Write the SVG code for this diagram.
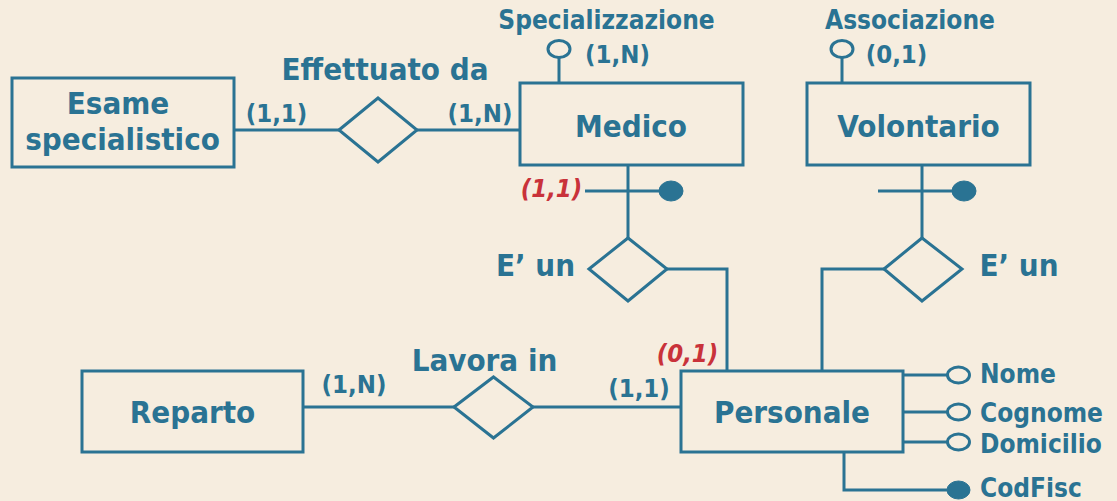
<svg xmlns="http://www.w3.org/2000/svg" width="1117" height="501" viewBox="0 0 1117 501">
<style>
.bg{fill:#F6EDDF}
.ent{fill:none;stroke:#2A7393;stroke-width:3}
.rel{fill:none;stroke:#2A7393;stroke-width:3;stroke-linejoin:miter}
.ln{fill:none;stroke:#2A7393;stroke-width:3}
.ao{fill:#F6EDDF;stroke:#2A7393;stroke-width:3}
.af{fill:#2A7393;stroke:#2A7393;stroke-width:1}
text{font-family:"DejaVu Sans Condensed","DejaVu Sans","Liberation Sans",sans-serif;font-stretch:condensed;font-weight:bold;fill:#2A7393}
.big{font-size:31px}
.mid{font-size:26px}
.card{font-size:25.5px}
.red{fill:#C9323A;font-style:italic;font-size:25.5px}
.c{text-anchor:middle}
</style>
<rect class="bg" x="0" y="0" width="1117" height="501"/>
<g id="connectors">
<path class="ln" d="M234,130 H339"/>
<path class="ln" d="M417,130 H520"/>
<path class="ln" d="M559,83 V57"/>
<path class="ln" d="M842,83 V57"/>
<path class="ln" d="M628,165 V238"/>
<path class="ln" d="M585,191 H660"/>
<path class="ln" d="M922,165 V238"/>
<path class="ln" d="M878,191 H953"/>
<path class="ln" d="M667,269 H727 V371"/>
<path class="ln" d="M884,269 H822 V371"/>
<path class="ln" d="M303,407 H454"/>
<path class="ln" d="M533,407 H681"/>
<path class="ln" d="M903,375 H947"/>
<path class="ln" d="M903,412 H947"/>
<path class="ln" d="M903,442 H947"/>
<path class="ln" d="M844,452 V490 H947"/>
</g>
<g id="esame">
<rect class="ent" x="12" y="78" width="222" height="89"/>
<text class="big c" x="118" y="114">Esame</text>
<text class="big c" x="122.5" y="150">specialistico</text>
</g>
<g id="effettuato">
<polygon class="rel" points="339,130 378,98 417,130 378,162"/>
<text class="big c" x="385" y="80">Effettuato da</text>
<text class="card c" x="276.5" y="122">(1,1)</text>
<text class="card c" x="480" y="122">(1,N)</text>
</g>
<g id="medico">
<rect class="ent" x="520" y="83" width="223" height="82"/>
<text class="big c" x="631" y="137">Medico</text>
</g>
<g id="specializzazione">
<ellipse class="ao" cx="559" cy="49" rx="11" ry="8.5"/>
<text class="mid c" x="606.5" y="29">Specializzazione</text>
<text class="card c" x="617.5" y="63">(1,N)</text>
</g>
<g id="volontario">
<rect class="ent" x="807" y="83" width="223" height="82"/>
<text class="big c" x="918.5" y="137">Volontario</text>
</g>
<g id="associazione">
<ellipse class="ao" cx="842" cy="49" rx="11" ry="8.5"/>
<text class="mid c" x="910" y="29">Associazione</text>
<text class="card c" x="896.5" y="63">(0,1)</text>
</g>
<g id="id-medico">
<ellipse class="af" cx="671" cy="191" rx="12" ry="10"/>
<text class="red c" x="551.5" y="197">(1,1)</text>
</g>
<g id="id-volontario">
<ellipse class="af" cx="964" cy="191" rx="12" ry="10"/>
</g>
<g id="eun-medico">
<polygon class="rel" points="589,269 628,238 667,269 628,301"/>
<text class="big c" x="535.5" y="276">E’ un</text>
</g>
<g id="eun-volontario">
<polygon class="rel" points="884,269 922,238 962,269 922,301"/>
<text class="big c" x="1019" y="276">E’ un</text>
</g>
<g id="personale">
<rect class="ent" x="681" y="371" width="222" height="81"/>
<text class="big c" x="792" y="423">Personale</text>
<text class="red c" x="687.5" y="362">(0,1)</text>
</g>
<g id="reparto">
<rect class="ent" x="82" y="371" width="221" height="81"/>
<text class="big c" x="192.5" y="423">Reparto</text>
</g>
<g id="lavora">
<polygon class="rel" points="454,407 493.5,377 533,407 493.5,438"/>
<text class="big c" x="484.5" y="371">Lavora in</text>
<text class="card c" x="354" y="393">(1,N)</text>
<text class="card c" x="639" y="397">(1,1)</text>
</g>
<g id="nome">
<ellipse class="ao" cx="958.5" cy="375" rx="11" ry="8"/>
<text class="mid" x="980" y="383">Nome</text>
</g>
<g id="cognome">
<ellipse class="ao" cx="958.5" cy="412" rx="11" ry="8"/>
<text class="mid" x="980" y="422">Cognome</text>
</g>
<g id="domicilio">
<ellipse class="ao" cx="958.5" cy="442" rx="11" ry="8"/>
<text class="mid" x="980" y="452.5">Domicilio</text>
</g>
<g id="codfisc">
<ellipse class="af" cx="958.5" cy="490" rx="11.5" ry="9"/>
<text class="mid" x="980" y="497">CodFisc</text>
</g>
</svg>
